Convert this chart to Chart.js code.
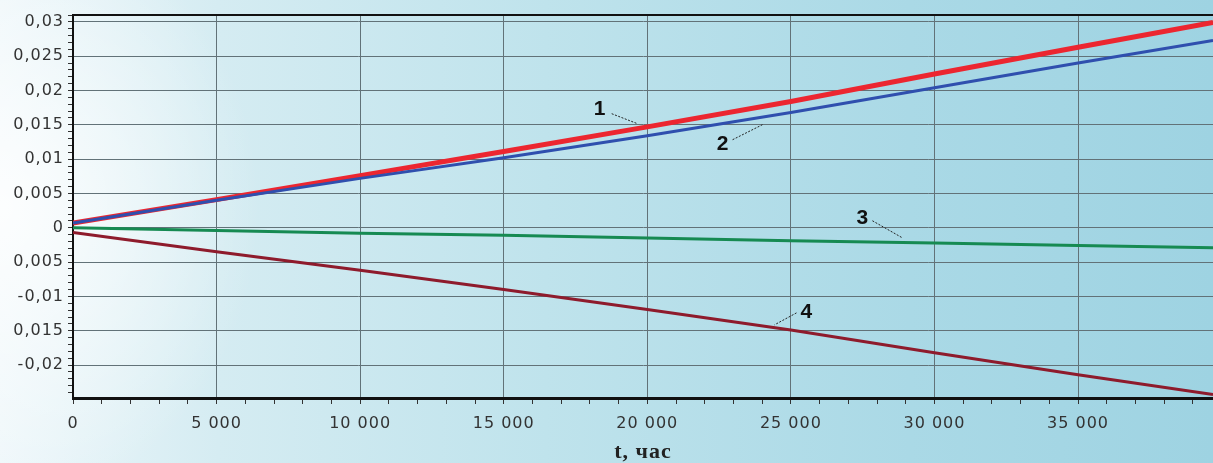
<!DOCTYPE html>
<html>
<head>
<meta charset="utf-8">
<script src="https://cdn.jsdelivr.net/npm/chart.js@4/dist/chart.umd.min.js"></script>
<style>
    html, body { margin: 0; padding: 0; }
    body {
        width: 1213px;
        height: 463px;
        overflow: hidden;
        background:
            radial-gradient(ellipse 260px 300px at 0% 45%, rgba(255,255,255,0.85), rgba(255,255,255,0) 100%),
            linear-gradient(to right, #eef7fa 0%, #d5ecf2 18%, #bfe3ec 45%, #aad9e6 75%, #9ed3e2 100%);
    }
    #wrap { position: relative; width: 1213px; height: 463px; }
</style>
</head>
<body>
<div id="wrap"><canvas id="chart"></canvas></div>
<script>
// time, hours
const hours = [0, 5000, 10000, 15000, 20000, 25000, 30000, 35000, 39700];

// curves 1..4
const curve1 = [0.0007, 0.0041, 0.0076, 0.0111, 0.0147, 0.0184, 0.0224, 0.0263, 0.0299];
const curve2 = [0.0007, 0.0040, 0.0072, 0.0102, 0.0134, 0.0168, 0.0204, 0.0240, 0.0273];
const curve3 = [0, -0.0004, -0.0008, -0.0011, -0.0015, -0.0019, -0.0022, -0.0026, -0.0029];
const curve4 = [-0.0007, -0.0035, -0.0062, -0.0090, -0.0119, -0.0149, -0.0182, -0.0214, -0.0243];

// axis ticks
const xTickValues = [0, 5000, 10000, 15000, 20000, 25000, 30000, 35000];
const xTickLabels = ['0', '5 000', '10 000', '15 000', '20 000', '25 000', '30 000', '35 000'];
const yTickValues = [0.03, 0.025, 0.02, 0.015, 0.01, 0.005, 0, -0.005, -0.01, -0.015, -0.02];
const yTickLabels = ['0,03', '0,025', '0,02', '0,015', '0,01', '0,005', '0', '0,005', '-0,01', '0,015', '-0,02'];

// curve numbers with leader lines (data coordinates)
const curveNames = ['1', '2', '3', '4'];
const nameAt = [[18340, 0.0173], [22620, 0.0122], [27490, 0.00146], [25540, -0.01225]];
const leaderFrom = [[18760, 0.01662], [22970, 0.01283], [27840, 0.00102], [25195, -0.0124]];
const leaderTo = [[19660, 0.01516], [24010, 0.01502], [28880, -0.00146], [24430, -0.01414]];

const xMin = 0, xMax = 39700;
const yMin = -0.0248, yMax = 0.031;

const tickFont = { family: '"DejaVu Sans", Verdana, sans-serif', size: 16 };

function points(ys) {
    return hours.map((h, i) => ({ x: h, y: ys[i] }));
}

function findLabel(values, labels, v, eps) {
    const i = values.findIndex(t => Math.abs(t - v) < eps);
    return i >= 0 ? labels[i] : '';
}

const isMajorX = v => xTickValues.some(t => Math.abs(t - v) < 1);
const isMajorY = v => yTickValues.some(t => Math.abs(t - v) < 1e-7);

const frame = {
    id: 'frame',
    beforeDraw(chart) {
        chart.ctx.letterSpacing = '1px'; // tick labels are spaced out a bit
    },
    afterDatasetsDraw(chart) {
        const { ctx, chartArea, scales } = chart;
        ctx.save();
        ctx.letterSpacing = '0px';
        // top border
        ctx.strokeStyle = '#111';
        ctx.lineWidth = 2;
        ctx.beginPath();
        ctx.moveTo(chartArea.left, chartArea.top);
        ctx.lineTo(chartArea.right, chartArea.top);
        ctx.stroke();

        // curve names and leaders
        ctx.fillStyle = '#111';
        ctx.font = 'bold 21px "Liberation Sans", Arial, sans-serif';
        ctx.textAlign = 'center';
        ctx.textBaseline = 'middle';
        curveNames.forEach((name, i) => {
            const tx = scales.x.getPixelForValue(nameAt[i][0]);
            const ty = scales.y.getPixelForValue(nameAt[i][1]);
            ctx.fillText(name, tx, ty);
            ctx.strokeStyle = '#222';
            ctx.lineWidth = 1;
            ctx.setLineDash([2, 1.5]);
            ctx.beginPath();
            ctx.moveTo(scales.x.getPixelForValue(leaderFrom[i][0]), scales.y.getPixelForValue(leaderFrom[i][1]));
            ctx.lineTo(scales.x.getPixelForValue(leaderTo[i][0]), scales.y.getPixelForValue(leaderTo[i][1]));
            ctx.stroke();
            ctx.setLineDash([]);
        });
        ctx.restore();
    }
};

new Chart(document.getElementById('chart'), {
    type: 'line',
    data: {
        datasets: [
            { label: '4', data: points(curve4), borderColor: '#8e1b2c', borderWidth: 3 },
            { label: '3', data: points(curve3), borderColor: '#168a52', borderWidth: 3 },
            { label: '2', data: points(curve2), borderColor: '#2f4fae', borderWidth: 3 },
            { label: '1', data: points(curve1), borderColor: '#ec2630', borderWidth: 5 }
        ]
    },
    options: {
        responsive: true,
        maintainAspectRatio: false,
        animation: false,
        elements: { point: { radius: 0 }, line: { tension: 0 } },
        layout: { padding: { top: 15, right: 0, left: 0, bottom: 0 } },
        plugins: { legend: { display: false }, tooltip: { enabled: false } },
        scales: {
            x: {
                type: 'linear',
                min: xMin,
                max: xMax,
                afterBuildTicks: scale => {
                    const ticks = [];
                    for (let v = 0; v <= xMax; v += 1000) ticks.push({ value: v });
                    scale.ticks = ticks;
                },
                afterFit: scale => { scale.height = 65; },
                border: { display: true, color: '#111', width: 3 },
                grid: {
                    color: c => isMajorX(c.tick.value) && c.tick.value !== 0 ? '#627278' : 'rgba(0,0,0,0)',
                    tickColor: '#333',
                    tickLength: 6,
                    lineWidth: 1
                },
                ticks: {
                    autoSkip: false,
                    maxRotation: 0,
                    padding: 10,
                    color: '#333',
                    font: tickFont,
                    callback: v => findLabel(xTickValues, xTickLabels, v, 1)
                },
                title: {
                    display: true,
                    text: 't, час',
                    color: '#222',
                    padding: { top: 0, bottom: -3 },
                    font: { family: '"Liberation Serif", "DejaVu Serif", serif', size: 22, weight: 'bold' }
                }
            },
            y: {
                type: 'linear',
                min: yMin,
                max: yMax,
                afterBuildTicks: scale => {
                    const ticks = [];
                    for (let k = Math.ceil(yMin * 1000); k <= Math.floor(yMax * 1000); k++) ticks.push({ value: k / 1000 });
                    scale.ticks = ticks;
                },
                afterFit: scale => { scale.width = 73; },
                border: { display: true, color: '#111', width: 2 },
                grid: {
                    color: c => isMajorY(c.tick.value) ? '#627278' : 'rgba(0,0,0,0)',
                    tickColor: '#333',
                    tickLength: 5,
                    lineWidth: 1
                },
                ticks: {
                    autoSkip: false,
                    padding: 4,
                    color: '#333',
                    font: tickFont,
                    callback: v => findLabel(yTickValues, yTickLabels, v, 1e-7)
                }
            }
        }
    },
    plugins: [frame]
});
</script>
</body>
</html>
